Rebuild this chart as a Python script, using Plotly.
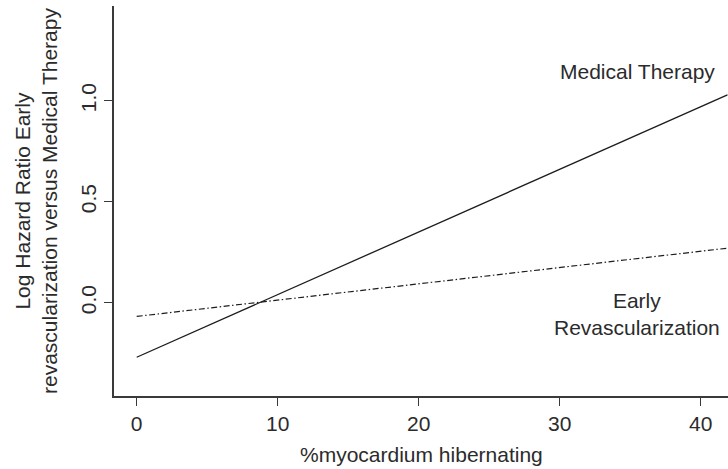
import plotly.graph_objects as go

# Fitted log hazard ratio (early revascularization vs medical therapy)
# as a function of % hibernating myocardium
pct_hibernating = [0, 41.9]
medical_therapy = [-0.27, 1.029]
early_revasc = [-0.068, 0.270]

x_ticks = [0, 10, 20, 30, 40]
y_ticks = [0.0, 0.5, 1.0]

FONT = "Liberation Sans, Arial, Helvetica, sans-serif"
INK = "#2b2b2b"
LINE = "#1c1c1c"
AXIS = "#3a3a3a"

fig = go.Figure()

fig.add_trace(go.Scatter(
    x=pct_hibernating, y=medical_therapy, mode="lines",
    line=dict(color=LINE, width=1.3),
    name="Medical Therapy", showlegend=False, hoverinfo="skip",
))
fig.add_trace(go.Scatter(
    x=pct_hibernating, y=early_revasc, mode="lines",
    line=dict(color=LINE, width=1.2, dash="6px,2.5px,1.5px,2.5px"),
    name="Early Revascularization", showlegend=False, hoverinfo="skip",
))

fig.add_annotation(
    x=35.5, y=1.147, xref="x", yref="y", text="Medical Therapy",
    showarrow=False, xanchor="center", yanchor="middle",
    font=dict(family=FONT, size=21, color=INK),
)
fig.add_annotation(
    x=35.5, y=-0.056, xref="x", yref="y", text="Early<br>Revascularization",
    showarrow=False, xanchor="center", yanchor="middle", align="center",
    font=dict(family=FONT, size=21, color=INK),
)

# y-axis title (two lines, rotated)
fig.add_annotation(
    x=-78 / 614, y=0.5, xref="paper", yref="paper",
    text="Log Hazard Ratio Early<br>revascularization versus Medical Therapy",
    textangle=-90, showarrow=False, xanchor="center", yanchor="middle",
    align="center", font=dict(family=FONT, size=21, color=INK),
)
# x-axis title
fig.add_annotation(
    x=0.5, y=-59 / 390, xref="paper", yref="paper",
    text="%myocardium hibernating",
    showarrow=False, xanchor="center", yanchor="middle",
    font=dict(family=FONT, size=21, color=INK),
)

fig.update_layout(
    width=728, height=469,
    margin=dict(l=114, r=0, t=6, b=73, autoexpand=False),
    paper_bgcolor="white", plot_bgcolor="white",
    font=dict(family=FONT, size=21, color=INK),
    showlegend=False,
)
fig.update_xaxes(
    range=[-1.61, 41.94], tickvals=x_ticks, ticktext=[str(v) for v in x_ticks],
    showgrid=False, zeroline=False, showline=True, linecolor=AXIS, linewidth=1.5,
    ticks="outside", ticklen=8, tickwidth=1.3, tickcolor=AXIS,
    tickfont=dict(family=FONT, size=21, color=INK), automargin=False,
)
fig.update_yaxes(
    range=[-0.462, 1.469], tickvals=y_ticks, ticktext=[f"{v:.1f}" for v in y_ticks],
    tickangle=-90,
    showgrid=False, zeroline=False, showline=True, linecolor=AXIS, linewidth=1.5,
    ticks="outside", ticklen=8, tickwidth=1.3, tickcolor=AXIS,
    tickfont=dict(family=FONT, size=21, color=INK), automargin=False,
)

fig.write_html("out.html")
